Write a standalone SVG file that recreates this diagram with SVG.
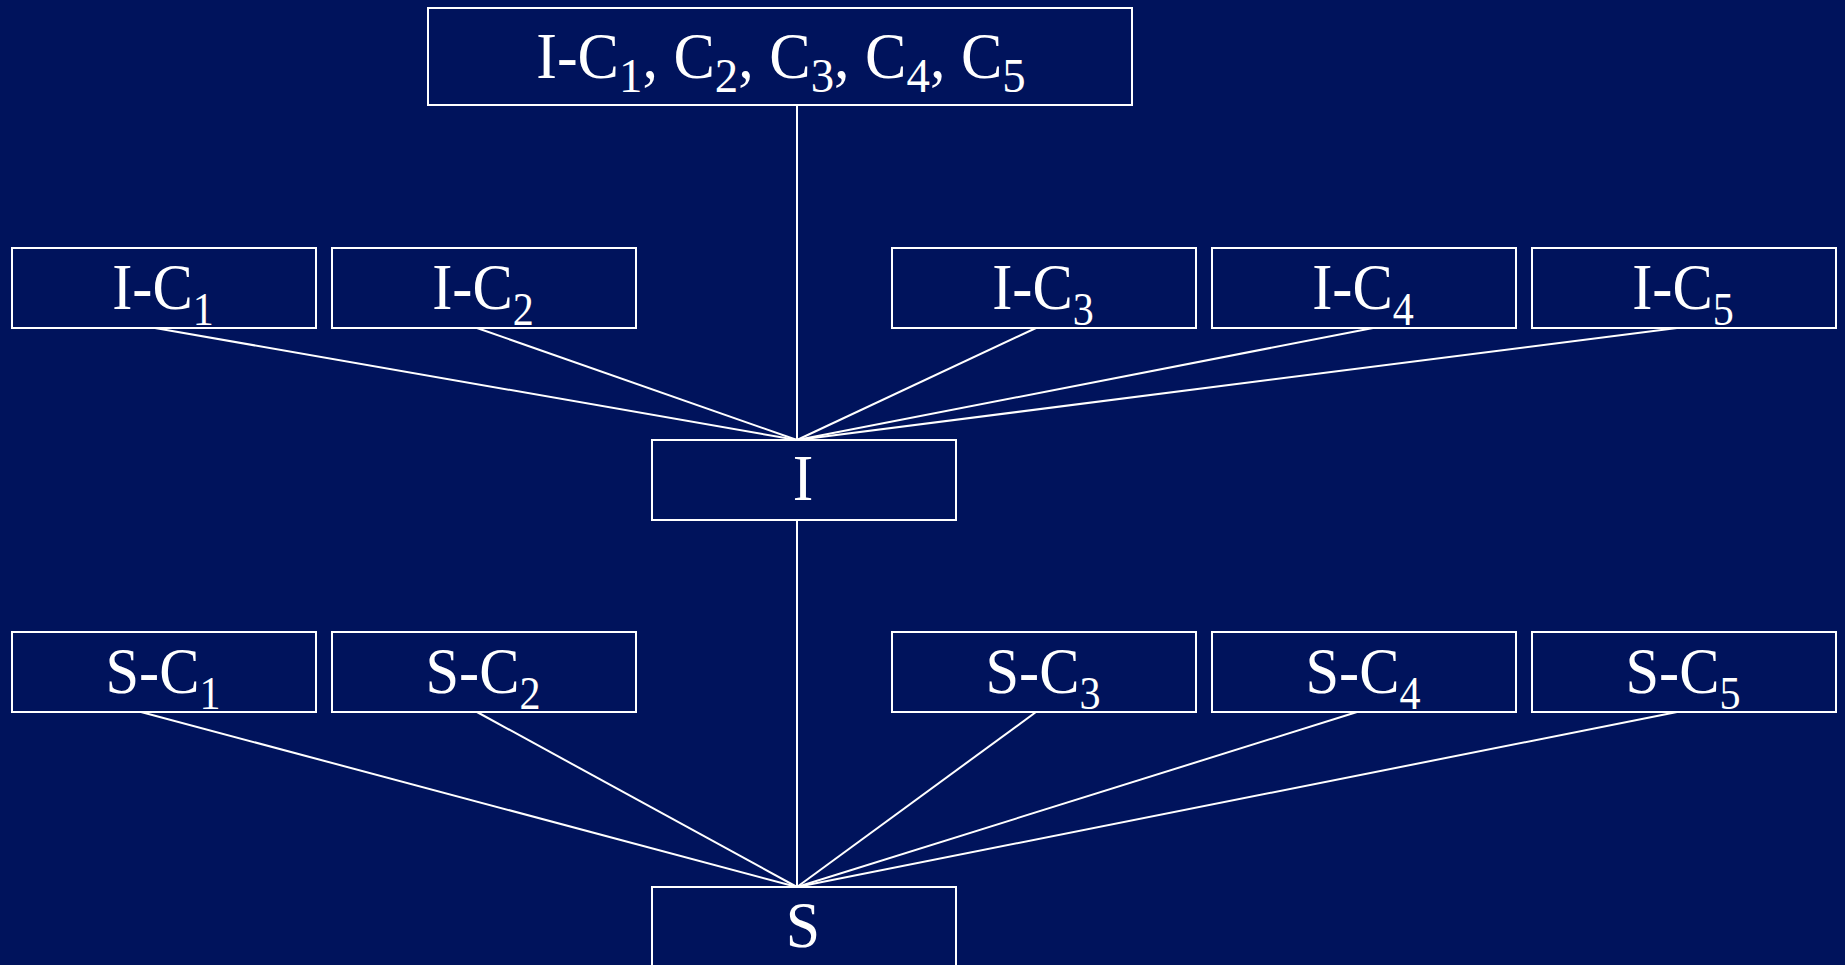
<svg xmlns="http://www.w3.org/2000/svg" width="1845" height="965" viewBox="0 0 1845 965">
  <style>
    .box { fill: none; stroke: #ffffff; stroke-width: 2; }
    .lbl { font-family: "Liberation Serif", "Times New Roman", serif; fill: #ffffff; text-anchor: middle; font-size: 66px; }
    .big { font-size: 65px; }
    .sub { font-size: 46px; }
    .big .sub { font-size: 49px; }
    #connectors line { stroke: #ffffff; stroke-width: 2; }
  </style>
  <rect width="1845" height="965" fill="#00135c"/>

  <g id="connectors">
    <line x1="797" y1="105" x2="797" y2="440"/>
    <line x1="155" y1="328" x2="797" y2="440"/>
    <line x1="477" y1="328" x2="797" y2="440"/>
    <line x1="1036" y1="328" x2="797" y2="440"/>
    <line x1="1373" y1="328" x2="797" y2="440"/>
    <line x1="1677" y1="328" x2="797" y2="440"/>
    <line x1="797" y1="520" x2="797" y2="887"/>
    <line x1="141" y1="712" x2="797" y2="887"/>
    <line x1="477" y1="712" x2="797" y2="887"/>
    <line x1="1036" y1="712" x2="797" y2="887"/>
    <line x1="1357" y1="712" x2="797" y2="887"/>
    <line x1="1677" y1="712" x2="797" y2="887"/>
  </g>

  <g id="top">
    <rect class="box" x="428" y="8" width="704" height="97"/>
    <text class="lbl big" transform="translate(781 78) scale(0.955 1)">I-C<tspan class="sub" dy="14">1</tspan><tspan dy="-14">, C</tspan><tspan class="sub" dy="14">2</tspan><tspan dy="-14">, C</tspan><tspan class="sub" dy="14">3</tspan><tspan dy="-14">, C</tspan><tspan class="sub" dy="14">4</tspan><tspan dy="-14">, C</tspan><tspan class="sub" dy="14">5</tspan></text>
  </g>

  <g id="ic1">
    <rect class="box" x="12" y="248" width="304" height="80"/>
    <text class="lbl" transform="translate(163 309) scale(0.915 1)">I-C<tspan class="sub" dy="16">1</tspan></text>
  </g>
  <g id="ic2">
    <rect class="box" x="332" y="248" width="304" height="80"/>
    <text class="lbl" transform="translate(483 309) scale(0.915 1)">I-C<tspan class="sub" dy="16">2</tspan></text>
  </g>
  <g id="ic3">
    <rect class="box" x="892" y="248" width="304" height="80"/>
    <text class="lbl" transform="translate(1043 309) scale(0.915 1)">I-C<tspan class="sub" dy="16">3</tspan></text>
  </g>
  <g id="ic4">
    <rect class="box" x="1212" y="248" width="304" height="80"/>
    <text class="lbl" transform="translate(1363 309) scale(0.915 1)">I-C<tspan class="sub" dy="16">4</tspan></text>
  </g>
  <g id="ic5">
    <rect class="box" x="1532" y="248" width="304" height="80"/>
    <text class="lbl" transform="translate(1683 309) scale(0.915 1)">I-C<tspan class="sub" dy="16">5</tspan></text>
  </g>

  <g id="i">
    <rect class="box" x="652" y="440" width="304" height="80"/>
    <text class="lbl" transform="translate(803 500) scale(0.935 1)">I</text>
  </g>

  <g id="sc1">
    <rect class="box" x="12" y="632" width="304" height="80"/>
    <text class="lbl" transform="translate(163 693) scale(0.915 1)">S-C<tspan class="sub" dy="16">1</tspan></text>
  </g>
  <g id="sc2">
    <rect class="box" x="332" y="632" width="304" height="80"/>
    <text class="lbl" transform="translate(483 693) scale(0.915 1)">S-C<tspan class="sub" dy="16">2</tspan></text>
  </g>
  <g id="sc3">
    <rect class="box" x="892" y="632" width="304" height="80"/>
    <text class="lbl" transform="translate(1043 693) scale(0.915 1)">S-C<tspan class="sub" dy="16">3</tspan></text>
  </g>
  <g id="sc4">
    <rect class="box" x="1212" y="632" width="304" height="80"/>
    <text class="lbl" transform="translate(1363 693) scale(0.915 1)">S-C<tspan class="sub" dy="16">4</tspan></text>
  </g>
  <g id="sc5">
    <rect class="box" x="1532" y="632" width="304" height="80"/>
    <text class="lbl" transform="translate(1683 693) scale(0.915 1)">S-C<tspan class="sub" dy="16">5</tspan></text>
  </g>

  <g id="s">
    <rect class="box" x="652" y="887" width="304" height="82"/>
    <text class="lbl" transform="translate(803 947) scale(0.935 1)">S</text>
  </g>
</svg>
